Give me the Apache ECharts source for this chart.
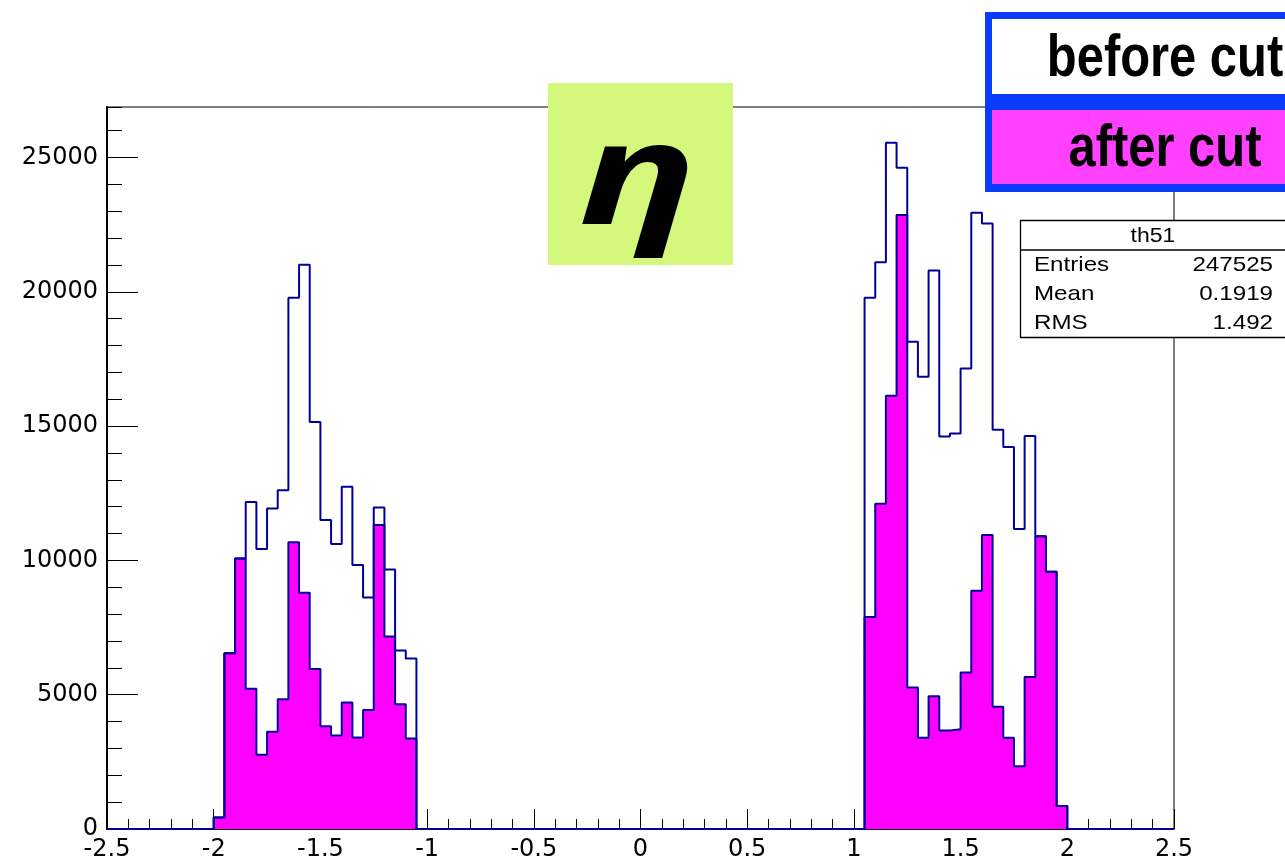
<!DOCTYPE html>
<html>
<head>
<meta charset="utf-8">
<script src="https://cdn.jsdelivr.net/npm/echarts@6/dist/echarts.min.js"></script>
<style>
html,body{margin:0;padding:0;background:#fff;}
#chart{width:1285px;height:862px;}
</style>
</head>
<body>
<div id="chart"></div>
<script>
// ---- data (eta histogram, bin width 0.05, low edges) ----
const leftBinLow  = [-2.00,-1.95,-1.90,-1.85,-1.80,-1.75,-1.70,-1.65,-1.60,-1.55,-1.50,-1.45,-1.40,-1.35,-1.30,-1.25,-1.20,-1.15,-1.10];
const beforeLeft  = [430, 6540, 10070, 12170, 10420, 11930, 12610, 19780, 21010, 15150, 11500, 10610, 12740, 9830, 8620, 11970, 9660, 6650, 6350];
const afterLeft   = [430, 6540, 10070, 5220, 2760, 3620, 4830, 10680, 8800, 5960, 3830, 3480, 4710, 3410, 4430, 11320, 7170, 4640, 3370];
const rightBinLow = [1.05,1.10,1.15,1.20,1.25,1.30,1.35,1.40,1.45,1.50,1.55,1.60,1.65,1.70,1.75,1.80,1.85,1.90,1.95];
const beforeRight = [19780, 21100, 25550, 24620, 18140, 16840, 20790, 14610, 14720, 17140, 22940, 22540, 14860, 14220, 11170, 14630, 10900, 9580, 852];
const afterRight  = [7890, 12105, 16130, 22860, 5268, 3393, 4945, 3666, 3717, 5831, 8866, 10946, 4552, 3393, 2336, 5660, 10900, 9580, 852];
const binWidth = 0.05;
const xRange = [-2.5, 2.5];
const xTicks = ['-2.5','-2','-1.5','-1','-0.5','0','0.5','1','1.5','2','2.5'];
const yTicks = [0, 5000, 10000, 15000, 20000, 25000];
const yMax = 26880;
const statsTitle = 'th51';
const statsRows = [['Entries','247525'],['Mean','0.1919'],['RMS','1.492']];
const legendLabels = ['before cut','after cut'];
const titleText = 'η';

// build step-histogram outline points (edge, value) using 'end' step
function buildSteps(lowsA, valsA, lowsB, valsB) {
  const pts = [[xRange[0], 0]];
  const addCluster = (lows, vals) => {
    for (let i = 0; i < lows.length; i++) pts.push([lows[i], vals[i]]);
    pts.push([+(lows[lows.length - 1] + binWidth).toFixed(4), 0]);
  };
  addCluster(lowsA, valsA);
  addCluster(lowsB, valsB);
  pts.push([xRange[1], 0]);
  return pts;
}
const beforeData = buildSteps(leftBinLow, beforeLeft, rightBinLow, beforeRight);
const afterData  = buildSteps(leftBinLow, afterLeft, rightBinLow, afterRight);

const FONT = "'DejaVu Sans', 'Liberation Sans', sans-serif";
const LINE = '#000099';

const chart = echarts.init(document.getElementById('chart'), null, {renderer: 'canvas'});
chart.setOption({
  animation: false,
  backgroundColor: '#fff',
  grid: {left: 107, right: 111, top: 107, bottom: 31, show: true, borderColor: '#000', borderWidth: 1, backgroundColor: '#fff'},
  xAxis: [{
    type: 'value', min: xRange[0], max: xRange[1], interval: 0.5,
    axisLine: {show: true, onZero: false, lineStyle: {color: '#000', width: 1}},
    axisTick: {show: true, inside: true, length: 20, lineStyle: {color: '#000', width: 1}},
    minorTick: {show: true, splitNumber: 5, length: 10, lineStyle: {color: '#000', width: 1}},
    splitLine: {show: false},
    axisLabel: {show: true, margin: 9, fontSize: 24, fontFamily: FONT, color: '#000',
      formatter: v => { const s = xTicks.find(t => Math.abs(parseFloat(t) - v) < 1e-6); return s === undefined ? '' : s; }},
  }],
  yAxis: [{
    type: 'value', min: 0, max: yMax, interval: 5000, position: 'left',
    axisLine: {show: true, onZero: false, lineStyle: {color: '#000', width: 2}},
    axisTick: {show: true, inside: true, length: 31, lineStyle: {color: '#000', width: 1}},
    splitLine: {show: false},
    axisLabel: {show: true, margin: 9, fontSize: 24, fontFamily: FONT, color: '#000', showMaxLabel: false,
      formatter: v => yTicks.includes(v) ? String(v) : ''},
  }, {
    type: 'value', min: 0, max: yMax, interval: 1000, position: 'left', offset: 0,
    axisLine: {show: false, onZero: false},
    axisTick: {show: true, inside: true, length: 15, lineStyle: {color: '#000', width: 1}},
    splitLine: {show: false},
    axisLabel: {show: false},
  }],
  series: [{
    name: 'after cut', type: 'line', step: 'end', data: afterData, symbol: 'none', clip: false,
    xAxisIndex: 0, yAxisIndex: 0, z: 2,
    lineStyle: {color: LINE, width: 2},
    areaStyle: {color: '#ff00ff', opacity: 1},
  }, {
    name: 'before cut', type: 'line', step: 'end', data: beforeData, symbol: 'none', clip: false,
    xAxisIndex: 0, yAxisIndex: 0, z: 3,
    lineStyle: {color: LINE, width: 2},
  }],
  graphic: [
    // title box
    {type: 'rect', z: 100, shape: {x: 548, y: 83, width: 185, height: 182}, style: {fill: '#d4f87b'}},
    {type: 'text', z: 101, x: 638, y: 183, scaleX: 1.24, scaleY: 0.9, style: {text: titleText, font: "italic bold 158px 'Open Sans', 'DejaVu Sans'", fill: '#000', textAlign: 'center', textVerticalAlign: 'middle'}},
    // legend
    {type: 'rect', z: 100, shape: {x: 985, y: 12, width: 360, height: 180}, style: {fill: '#0a3bff'}},
    {type: 'rect', z: 101, shape: {x: 992, y: 19, width: 346, height: 75}, style: {fill: '#ffffff'}},
    {type: 'rect', z: 101, shape: {x: 992, y: 110, width: 346, height: 74}, style: {fill: '#ff40ff'}},
    {type: 'text', z: 102, x: 1165, y: 59, scaleX: 0.815, style: {text: legendLabels[0], font: "bold 60px 'Liberation Sans', sans-serif", fill: '#000', textAlign: 'center', textVerticalAlign: 'middle'}},
    {type: 'text', z: 102, x: 1165, y: 149, scaleX: 0.815, style: {text: legendLabels[1], font: "bold 60px 'Liberation Sans', sans-serif", fill: '#000', textAlign: 'center', textVerticalAlign: 'middle'}},
    // stats box
    {type: 'rect', z: 100, shape: {x: 1020.5, y: 220.5, width: 270, height: 117}, style: {fill: '#fff', stroke: '#000', lineWidth: 1.3}},
    {type: 'line', z: 101, shape: {x1: 1020.5, y1: 250, x2: 1290, y2: 250}, style: {stroke: '#000', lineWidth: 1.3}},
    {type: 'text', z: 101, x: 1153, y: 236, scaleX: 1.15, style: {text: statsTitle, font: "20px 'Liberation Sans', sans-serif", fill: '#000', textAlign: 'center', textVerticalAlign: 'middle'}},
    ...statsRows.flatMap((r, i) => [
      {type: 'text', z: 101, x: 1034, y: 265 + i * 29, scaleX: 1.15, style: {text: r[0], font: "21px 'Liberation Sans', sans-serif", fill: '#000', textAlign: 'left', textVerticalAlign: 'middle'}},
      {type: 'text', z: 101, x: 1273, y: 265 + i * 29, scaleX: 1.15, style: {text: r[1], font: "21px 'Liberation Sans', sans-serif", fill: '#000', textAlign: 'right', textVerticalAlign: 'middle'}},
    ]),
  ],
});
</script>
</body>
</html>
